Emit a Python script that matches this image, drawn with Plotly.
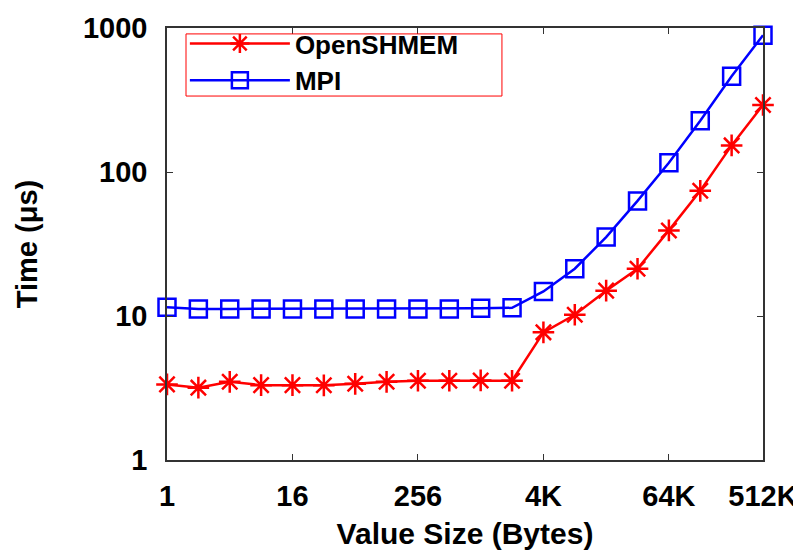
import plotly.graph_objects as go

sizes = [2 ** i for i in range(20)]
tick_vals = [1, 16, 256, 4096, 65536, 524288]
tick_text = ["1", "16", "256", "4K", "64K", "512K"]
y_ticks = [1, 10, 100, 1000]

openshmem = [3.35, 3.18, 3.49, 3.31, 3.31, 3.30, 3.38, 3.49, 3.55, 3.55, 3.57, 3.55,
             7.7, 10.2, 15.0, 21.3, 39.3, 74, 153, 292]
mpi = [11.5, 11.2, 11.2, 11.2, 11.2, 11.2, 11.2, 11.2, 11.2, 11.2, 11.3, 11.4,
       14.8, 21.3, 35.3, 63, 116, 227, 462, 891]

FONT = "Liberation Sans"

fig = go.Figure()
fig.add_trace(go.Scatter(
    x=sizes, y=openshmem, name="<b>OpenSHMEM</b>", mode="lines+markers",
    line=dict(color="#ff0000", width=2.5),
    marker=dict(symbol="asterisk-open", size=18, line=dict(color="#ff0000", width=2.5)),
    cliponaxis=False,
))
fig.add_trace(go.Scatter(
    x=sizes, y=mpi, name="<b>MPI</b>", mode="lines+markers",
    line=dict(color="#0000ff", width=2.5),
    marker=dict(symbol="square-open", size=17, color="#0000ff",
                line=dict(color="#0000ff", width=2.5)),
    cliponaxis=False,
))

axis_common = dict(
    showline=True, linecolor="#333333", linewidth=1.5, mirror="ticks",
    ticks="inside", ticklen=6, tickwidth=1.2, tickcolor="#333333",
    showgrid=False, zeroline=False, automargin=False,
    tickfont=dict(family=FONT, size=29, color="black", weight="bold"),
)

fig.update_xaxes(
    type="log", range=[0, 5.7196], tickvals=tick_vals, ticktext=tick_text,
    ticklabelstandoff=9,
    title=dict(text="<b>Value Size (Bytes)</b>", font=dict(family=FONT, size=30, color="black"),
               standoff=12),
    **axis_common,
)
fig.update_yaxes(
    type="log", range=[0, 3], tickvals=y_ticks, ticktext=["1", "10", "100", "1000"],
    ticklabelstandoff=12,
    title=dict(text="<b>Time (μs)</b>", font=dict(family=FONT, size=29, color="black"),
               standoff=37),
    **axis_common,
)

# legend frame (page is offset by the 8px body margin)
fig.add_shape(type="rect", xref="paper", yref="paper",
              x0=0.0319, x1=0.562, y0=0.8425, y1=0.9863,
              line=dict(color="#ff0000", width=1), layer="above")

fig.update_layout(
    width=793, height=544,
    margin=dict(l=159, r=38, t=14, b=92),
    paper_bgcolor="white", plot_bgcolor="white",
    showlegend=True,
    legend=dict(
        x=0.030, y=1.0183, xanchor="left", yanchor="top",
        borderwidth=0, bgcolor="rgba(255,255,255,0)",
        font=dict(family=FONT, size=26, color="black"),
        itemwidth=100, tracegroupgap=0,
    ),
)

fig.write_html("out.html")
